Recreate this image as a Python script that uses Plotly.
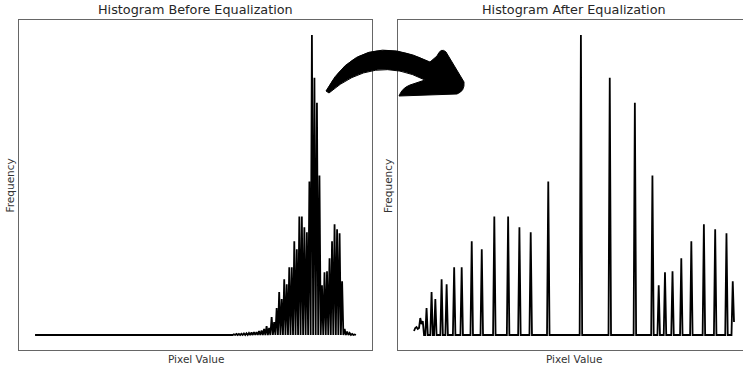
import numpy as np
import plotly.graph_objects as go

# ---------------- data ----------------
levels = list(range(256))

before_bins = [150, 152, 154, 156, 158, 160, 162, 164, 166, 168, 170, 172, 174, 176, 178,
               180, 182, 184, 186, 188, 190, 192, 194, 196, 198, 200, 202, 204, 206, 208,
               210, 212, 214, 216, 218, 220, 222, 224, 226, 228, 230, 232, 234, 236, 238,
               240, 242, 244, 246, 248, 250, 252, 254]
before_counts = [3, 4, 5, 6, 8, 10, 10, 12, 15, 18, 20, 25, 28, 30, 40,
                 45, 60, 90, 70, 180, 130, 270, 430, 360, 560, 510, 680, 680, 940, 860,
                 1190, 1190, 1080, 1030, 1540, 3010, 2580, 2330, 1600, 500, 630, 640, 770, 940, 1110,
                 1060, 1020, 540, 60, 35, 20, 10, 5]

after_bins = [0, 1, 2, 3, 4, 5, 6, 7, 10, 14, 17, 22, 26, 32, 38, 46, 54, 64, 75, 84, 93,
              107, 133, 156, 176, 190, 195, 200, 206, 213, 221, 231, 240, 249, 254, 255]
after_counts = [40, 70, 80, 60, 70, 170, 110, 140, 270, 430, 360, 560, 510, 680, 680, 940, 860,
                1190, 1190, 1080, 1030, 1540, 3010, 2580, 2330, 1600, 500, 630, 640, 770, 940,
                1110, 1060, 1020, 540, 130]

titles = ["Histogram Before Equalization", "Histogram After Equalization"]
x_label = "Pixel Value"
y_label = "Frequency"

# full 256-level histograms built from the read values
before_hist = np.zeros(256)
before_hist[before_bins] = before_counts
after_hist = np.zeros(256)
after_hist[after_bins] = after_counts

# ---------------- layout helpers ----------------
W, H = 743, 370


def px(x):
    return x / W


def py(y):
    return 1 - y / H


ymax = max(max(before_counts), max(after_counts))
yrange = [-0.05 * ymax, 1.05 * ymax]
xrange_left = [-12.75, 267.75]
# right panel is clipped by the picture's right edge
right_scale = 352 / 280.5
xrange_right = [-12.75, -12.75 + (W - 398) / right_scale]

fig = go.Figure()
fig.add_trace(go.Scatter(x=levels, y=before_hist, mode="lines",
                         line=dict(color="black", width=1.8), xaxis="x", yaxis="y",
                         hoverinfo="skip", showlegend=False))
fig.add_trace(go.Scatter(x=levels, y=after_hist, mode="lines",
                         line=dict(color="black", width=1.8), xaxis="x2", yaxis="y2",
                         hoverinfo="skip", showlegend=False))

frame = "#666666"
common = dict(showticklabels=False, ticks="", showgrid=False, zeroline=False,
              showline=True, linecolor=frame, linewidth=1, fixedrange=True)

fig.update_layout(
    width=W, height=H,
    margin=dict(l=0, r=0, t=0, b=0),
    paper_bgcolor="white", plot_bgcolor="white",
    xaxis=dict(domain=[px(19), px(372)], range=xrange_left, mirror=True, anchor="y", **common),
    yaxis=dict(domain=[py(350), py(20)], range=yrange, mirror=True, anchor="x", **common),
    xaxis2=dict(domain=[px(398), 1.0], range=xrange_right, mirror=True, anchor="y2", **common),
    yaxis2=dict(domain=[py(350), py(20)], range=yrange, mirror=False, anchor="x2", **common),
    font=dict(family="DejaVu Sans", color="#262626"),
)

ann = []
centers = [(19 + 372) / 2, (398 + 750) / 2]
ylab_x = [9.5, 388]
for i in range(2):
    ann.append(dict(text=titles[i], x=px(centers[i]), y=py(9.5), xref="paper", yref="paper",
                    xanchor="center", yanchor="middle", showarrow=False,
                    font=dict(size=12.8, family="DejaVu Sans", color="#262626")))
    ann.append(dict(text=x_label, x=px(centers[i]), y=py(359), xref="paper", yref="paper",
                    xanchor="center", yanchor="middle", showarrow=False,
                    font=dict(size=10.5, family="DejaVu Sans", color="#333333")))
    ann.append(dict(text=y_label, x=px(ylab_x[i]), y=py(186), xref="paper", yref="paper",
                    xanchor="center", yanchor="middle", showarrow=False, textangle=-90,
                    font=dict(size=10.5, family="DejaVu Sans", color="#333333")))
fig.update_layout(annotations=ann)

# curved arrow decoration between the panels (pixel outline -> paper coords)
def P(x, y):
    return f"{px(x):.5f},{py(y):.5f}"

arrow_path = (
    f"M {P(326, 91)} "
    f"Q {P(360, 28)} {P(430, 62)} "
    f"L {P(437, 56)} Q {P(441, 47)} {P(446, 52)} L {P(464, 82)} Q {P(465, 91)} {P(457, 94)} "
    f"L {P(399, 96)} Q {P(402, 88)} {P(410, 85)} L {P(425, 80)} "
    f"Q {P(374, 54)} {P(329, 93)} Z"
)
fig.add_shape(type="path", path=arrow_path, xref="paper", yref="paper",
              fillcolor="black", line=dict(color="black", width=1), layer="above")

fig.write_html("out.html")
